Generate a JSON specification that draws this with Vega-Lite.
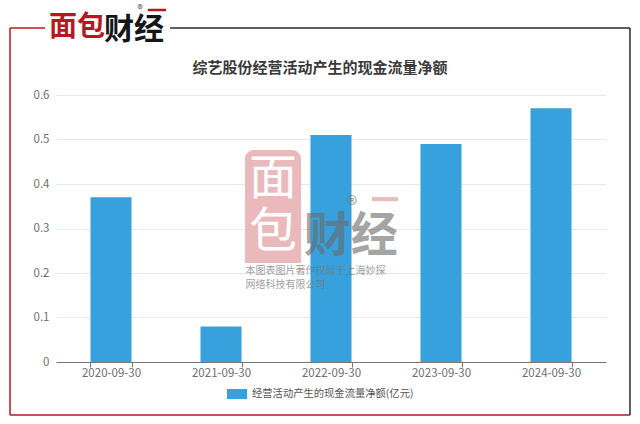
{
"$schema":"https://vega.github.io/schema/vega-lite/v6.json",
"width":550,"height":267,
"autosize":{"type":"none"},
"padding":{"left":56,"top":95,"right":34,"bottom":62},
"background":"white",
"config":{"view":{"stroke":null},"font":"Noto Sans CJK SC"},
"data":{"values":[
{"date":"2020-09-30","value":0.37,"series":"经营活动产生的现金流量净额(亿元)"},
{"date":"2021-09-30","value":0.08,"series":"经营活动产生的现金流量净额(亿元)"},
{"date":"2022-09-30","value":0.51,"series":"经营活动产生的现金流量净额(亿元)"},
{"date":"2023-09-30","value":0.49,"series":"经营活动产生的现金流量净额(亿元)"},
{"date":"2024-09-30","value":0.57,"series":"经营活动产生的现金流量净额(亿元)"}
]},
"resolve":{"scale":{"x":"independent"}},
"layer":[
{"layer":[
 {"data":{"values":[{"part":"block"}]},"mark":{"type":"rect","color":"#e9b9bc","cornerRadiusTopLeft":9,"cornerRadiusTopRight":9},
  "encoding":{"x":{"datum":0.3436,"type":"quantitative","scale":{"domain":[0,1],"nice":false,"zero":false},"axis":null},"x2":{"datum":0.4455},"y":{"datum":0.4764,"type":"quantitative"},"y2":{"datum":0.2225}}},
 {"data":{"values":[{"t":"面"}]},"mark":{"type":"text","color":"#ffffff","fontSize":48},
  "encoding":{"text":{"field":"t"},"x":{"datum":0.3945,"type":"quantitative"},"y":{"datum":0.409,"type":"quantitative"}}},
 {"data":{"values":[{"t":"包"}]},"mark":{"type":"text","color":"#ffffff","fontSize":48},
  "encoding":{"text":{"field":"t"},"x":{"datum":0.3945,"type":"quantitative"},"y":{"datum":0.29,"type":"quantitative"}}}
]},
{"mark":{"type":"bar"},
 "encoding":{
  "x":{"field":"date","type":"nominal","sort":null,"title":null,
   "scale":{"paddingInner":0.627,"paddingOuter":0.3135},
   "axis":{"orient":"bottom","labelAngle":0,"labelFontSize":11.5,"labelColor":"#6e6e6e","labelPadding":0,"tickBand":"extent","tickColor":"#777","tickSize":5,"domainColor":"#777","grid":false,"labelFont":"Noto Sans CJK SC"}},
  "y":{"field":"value","type":"quantitative","title":null,
   "scale":{"domain":[0,0.6],"nice":false},
   "axis":{"values":[0,0.1,0.2,0.3,0.4,0.5,0.6],"format":"~g","domain":false,"ticks":false,"labelFontSize":11.5,"labelColor":"#6e6e6e","labelPadding":7,"gridColor":"#e6e9f4","grid":true,"labelFont":"Noto Sans CJK SC"}},
  "color":{"field":"series","type":"nominal","title":null,
   "scale":{"range":["#36a1dc"]},
   "legend":{"orient":"none","legendX":171,"legendY":289,"symbolType":"M-1,-0.5H1V0.5H-1Z","symbolSize":400,"symbolOpacity":1,"symbolStrokeWidth":0,"labelFontSize":10.3,"labelColor":"#555","labelOffset":5,"labelLimit":300}}
 }},
{"layer":[
 {"data":{"values":[{"part":"left"}]},"mark":{"type":"rule","color":"#c0141c","strokeWidth":1.5},
  "encoding":{"x":{"datum":-0.0836,"type":"quantitative","scale":{"domain":[0,1],"nice":false,"zero":false},"axis":null},"y":{"datum":0.7506,"type":"quantitative"},"y2":{"datum":-0.119}}},
 {"data":{"values":[{"part":"bottom"}]},"mark":{"type":"rule","color":"#c0141c","strokeWidth":1.5},
  "encoding":{"x":{"datum":-0.0836,"type":"quantitative"},"x2":{"datum":1.0436},"y":{"datum":-0.119,"type":"quantitative"}}},
 {"data":{"values":[{"part":"right"}]},"mark":{"type":"rule","color":"#2a2a2a","strokeWidth":1.5},
  "encoding":{"x":{"datum":1.0436,"type":"quantitative"},"y":{"datum":0.7506,"type":"quantitative"},"y2":{"datum":-0.119}}},
 {"data":{"values":[{"part":"top left"}]},"mark":{"type":"rule","color":"#c0141c","strokeWidth":1.5},
  "encoding":{"x":{"datum":-0.0836,"type":"quantitative"},"x2":{"datum":-0.02},"y":{"datum":0.7506,"type":"quantitative"}}},
 {"data":{"values":[{"part":"top right"}]},"mark":{"type":"rule","color":"#2a2a2a","strokeWidth":1.5},
  "encoding":{"x":{"datum":0.2073,"type":"quantitative"},"x2":{"datum":1.0436},"y":{"datum":0.7506,"type":"quantitative"}}},
 {"data":{"values":[{"t":"综艺股份经营活动产生的现金流量净额"}]},"mark":{"type":"text","color":"#3a3a3a","fontSize":15,"fontWeight":"bold"},
  "encoding":{"text":{"field":"t"},"x":{"datum":0.48,"type":"quantitative"},"y":{"datum":0.6607,"type":"quantitative"}}},
 {"data":{"values":[{"t":"面包"}]},"mark":{"type":"text","color":"#b5191f","fontSize":28,"fontWeight":"bold"},
  "encoding":{"text":{"field":"t"},"x":{"datum":0.0382,"type":"quantitative"},"y":{"datum":0.7506,"type":"quantitative"}}},
 {"data":{"values":[{"t":"财经"}]},"mark":{"type":"text","color":"#161616","fontSize":30,"fontWeight":"bold"},
  "encoding":{"text":{"field":"t"},"x":{"datum":0.1418,"type":"quantitative"},"y":{"datum":0.746,"type":"quantitative"}}},
 {"data":{"values":[{"part":"logo dash"}]},"mark":{"type":"rule","color":"#b5191f","strokeWidth":2.5},
  "encoding":{"x":{"datum":0.167,"type":"quantitative"},"x2":{"datum":0.2},"y":{"datum":0.791,"type":"quantitative"}}},
 {"data":{"values":[{"t":"®"}]},"mark":{"type":"text","color":"#444","fontSize":11},
  "encoding":{"text":{"field":"t"},"x":{"datum":0.1527,"type":"quantitative"},"y":{"datum":0.79,"type":"quantitative"}}},
 {"data":{"values":[{"t":"财经"}]},"mark":{"type":"text","color":"#6a6a6a","opacity":0.6,"fontSize":47,"fontWeight":"bold"},
  "encoding":{"text":{"field":"t"},"x":{"datum":0.536,"type":"quantitative"},"y":{"datum":0.28,"type":"quantitative"}}},
 {"data":{"values":[{"part":"watermark dash"}]},"mark":{"type":"rule","color":"#e9b9bc","strokeWidth":4},
  "encoding":{"x":{"datum":0.5745,"type":"quantitative"},"x2":{"datum":0.6218},"y":{"datum":0.366,"type":"quantitative"}}},
 {"data":{"values":[{"t":"®"}]},"mark":{"type":"text","color":"#777","opacity":0.7,"fontSize":22},
  "encoding":{"text":{"field":"t"},"x":{"datum":0.538,"type":"quantitative"},"y":{"datum":0.35,"type":"quantitative"}}},
 {"data":{"values":[{"t":"本图表图片著作权属于上海妙探"}]},"mark":{"type":"text","color":"#777","opacity":0.7,"fontSize":10,"align":"left"},
  "encoding":{"text":{"field":"t"},"x":{"datum":0.3445,"type":"quantitative"},"y":{"datum":0.2045,"type":"quantitative"}}},
 {"data":{"values":[{"t":"网络科技有限公司"}]},"mark":{"type":"text","color":"#777","opacity":0.7,"fontSize":10,"align":"left"},
  "encoding":{"text":{"field":"t"},"x":{"datum":0.3445,"type":"quantitative"},"y":{"datum":0.173,"type":"quantitative"}}}
]}
]
}
